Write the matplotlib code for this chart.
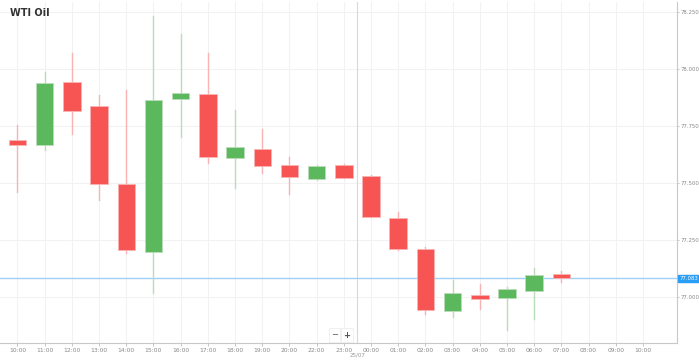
import matplotlib.pyplot as plt
from matplotlib.patches import Rectangle

# hourly candles, WTI Oil (21:00 missing - market break)
hours = ['10:00', '11:00', '12:00', '13:00', '14:00', '15:00', '16:00', '17:00',
         '18:00', '19:00', '20:00', '22:00', '23:00', '00:00', '01:00', '02:00',
         '03:00', '04:00', '05:00', '06:00', '07:00', '08:00', '09:00', '10:00']
opens = [77.688, 77.666, 77.941, 77.836, 77.497, 77.200, 77.867, 77.888, 77.610,
         77.649, 77.579, 77.518, 77.579, 77.531, 77.348, 77.213, 76.939, 77.009,
         76.996, 77.026, 77.100]
closes = [77.666, 77.936, 77.814, 77.497, 77.205, 77.862, 77.893, 77.614, 77.658,
          77.575, 77.527, 77.575, 77.523, 77.353, 77.213, 76.943, 77.017, 76.991,
          77.035, 77.096, 77.083]
highs = [77.753, 77.984, 78.067, 77.884, 77.906, 78.233, 78.154, 78.067, 77.819,
         77.736, 77.614, 77.580, 77.583, 77.536, 77.375, 77.222, 77.074, 77.057,
         77.044, 77.126, 77.113]
lows = [77.462, 77.645, 77.714, 77.427, 77.196, 77.017, 77.701, 77.588, 77.479,
        77.544, 77.453, 77.515, 77.520, 77.350, 77.209, 76.926, 76.913, 76.948,
        76.856, 76.904, 77.065]
yticks = [77.0, 77.25, 77.5, 77.75, 78.0, 78.25]
last_price = 77.083
day_label = '25/07'

green, red = '#5cb85c', '#f75454'
green_wick, red_wick = '#b9ddb9', '#f8b4b4'

fig = plt.figure(figsize=(6.99, 3.61), dpi=100)
ax = fig.add_axes([0.0, 18 / 361, 677 / 699, 1 - 18 / 361 - 0.005])

for i, (o, c, h, l) in enumerate(zip(opens, closes, highs, lows)):
    up = c >= o
    col = green if up else red
    wcol = green_wick if up else red_wick
    ax.plot([i, i], [l, h], color=wcol, lw=1, zorder=2)
    ax.add_patch(Rectangle((i - 0.32, min(o, c)), 0.64, abs(c - o),
                           facecolor=col, edgecolor=wcol, lw=0.6, zorder=3))

ax.set_xlim(-0.64, 24.25)
ax.set_ylim(76.80, 78.293)

# grid
for i in range(len(hours)):
    ax.axvline(i, color='#f2f2f2', lw=0.8, zorder=0)
for y in yticks:
    ax.axhline(y, color='#f2f2f2', lw=0.8, zorder=0)
ax.axvline(12.5, color='#d9d9d9', lw=0.8, zorder=1)
ax.axhline(last_price, color='#9fd0f5', lw=1, zorder=1)

ax.set_xticks(range(len(hours)))
ax.set_xticklabels(hours)
ax.yaxis.tick_right()
ax.set_yticks(yticks)
ax.set_yticklabels(['%.3f' % y for y in yticks])
ax.tick_params(axis='x', labelsize=4.3, labelcolor='#888888', color='#bbbbbb',
               length=2, width=0.6, pad=1.5)
ax.tick_params(axis='y', labelsize=3.9, labelcolor='#888888', color='#bbbbbb',
               length=1.5, width=0.6, pad=1)
for s in ['top', 'left']:
    ax.spines[s].set_visible(False)
for s in ['right', 'bottom']:
    ax.spines[s].set_color('#c8c8c8')
    ax.spines[s].set_linewidth(0.8)

ax.text(12.5, -0.028, day_label, transform=ax.get_xaxis_transform(), ha='center',
        va='top', fontsize=4, color='#999999')
ax.text(1.003, last_price, '%.3f' % last_price, transform=ax.get_yaxis_transform(),
        ha='left', va='center', fontsize=3.9, color='white',
        bbox=dict(boxstyle='square,pad=0.15', fc='#2a9df4', ec='#2a9df4'))

fig.text(10 / 699, 1 - 13 / 361, 'WTI Oil', fontsize=7, fontweight='bold',
         color='#333333', va='center')

# zoom buttons
ax.text(11.65, 76.835, '\u2212', ha='center', va='center', fontsize=6, color='#555555',
        bbox=dict(boxstyle='square,pad=0.25', fc='white', ec='#eeeeee', lw=0.6))
ax.text(12.12, 76.835, '+', ha='center', va='center', fontsize=6, color='#555555',
        fontweight='bold',
        bbox=dict(boxstyle='square,pad=0.25', fc='white', ec='#eeeeee', lw=0.6))

fig.savefig('out.png', dpi=100)
